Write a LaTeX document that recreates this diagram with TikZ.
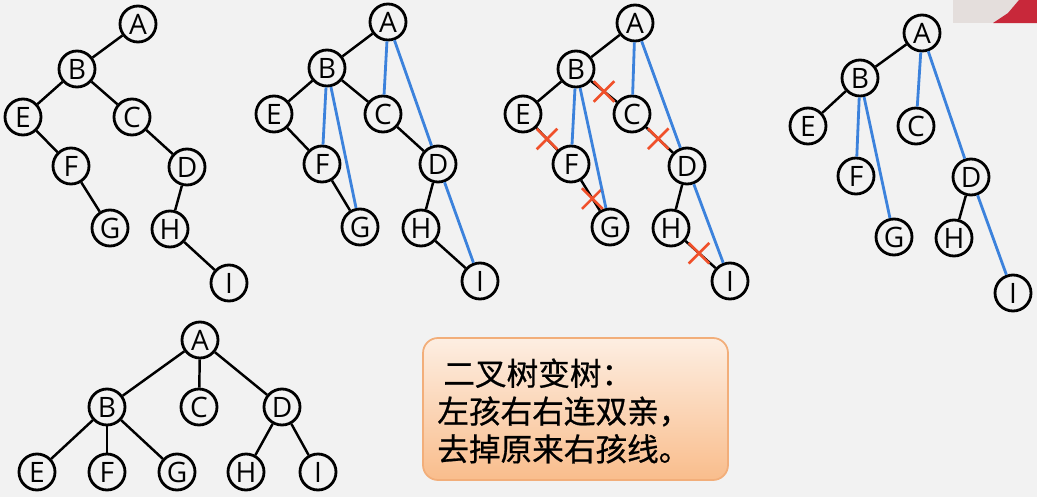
\documentclass[tikz,border=0pt]{standalone}
\usepackage{fontspec}
\setmainfont{Open Sans}
\newfontfamily\cjk[FakeBold=0.6]{Noto Sans CJK SC}
\usetikzlibrary{shapes.misc}
\definecolor{bgcol}{HTML}{F2F2F2}
\definecolor{linkblue}{HTML}{3C82DC}
\definecolor{cutred}{HTML}{F0502A}
\definecolor{boxtop}{HTML}{FDEEE2}
\definecolor{boxbot}{HTML}{F9BD8C}
\definecolor{boxline}{HTML}{F2AE7A}
\definecolor{camgray}{HTML}{E4DEDC}
\definecolor{camred}{HTML}{C8283A}
\begin{document}
\begin{tikzpicture}[x=0.02cm,y=-0.02cm,
  vtx/.style={circle,draw,line width=1.6pt,minimum size=0.72cm,inner sep=0pt,
    font=\fontsize{16}{17}\selectfont},
  blk/.style={line width=1.4pt},
  blu/.style={linkblue,line width=1.6pt},
  xmark/.style={cross out,draw=cutred,line width=1.5pt,minimum size=0.36cm,inner sep=0pt}]
  \fill[bgcol] (0,0) rectangle (1037,497);
  \fill[camgray] (953,0) rectangle (1037,23);
  \fill[camred] (993,23) -- (1008,13) -- (1019,0) -- (1037,0) -- (1037,23) -- cycle;
  % binary tree
  \node[vtx] (A1) at (138,24) {A};
  \node[vtx] (B1) at (77,69) {B};
  \node[vtx] (E1) at (23,117) {E};
  \node[vtx] (C1) at (132,117) {C};
  \node[vtx] (F1) at (71,166) {F};
  \node[vtx] (D1) at (187,167) {D};
  \node[vtx] (G1) at (110,228) {G};
  \node[vtx] (H1) at (170,229) {H};
  \node[vtx] (I1) at (229,283) {I};
  \draw[blk] (A1) -- (B1);
  \draw[blk] (B1) -- (E1);
  \draw[blk] (B1) -- (C1);
  \draw[blk] (E1) -- (F1);
  \draw[blk] (F1) -- (G1);
  \draw[blk] (C1) -- (D1);
  \draw[blk] (D1) -- (H1);
  \draw[blk] (H1) -- (I1);
  % parents linked to right children
  \node[vtx] (A2) at (388,22) {A};
  \node[vtx] (B2) at (327,68) {B};
  \node[vtx] (E2) at (274,114) {E};
  \node[vtx] (C2) at (383,114) {C};
  \node[vtx] (F2) at (322,164) {F};
  \node[vtx] (D2) at (438,164) {D};
  \node[vtx] (G2) at (360,227) {G};
  \node[vtx] (H2) at (421,228) {H};
  \node[vtx] (I2) at (480,281) {I};
  \draw[blk] (A2) -- (B2);
  \draw[blk] (B2) -- (E2);
  \draw[blk] (B2) -- (C2);
  \draw[blk] (E2) -- (F2);
  \draw[blk] (F2) -- (G2);
  \draw[blk] (C2) -- (D2);
  \draw[blk] (D2) -- (H2);
  \draw[blk] (H2) -- (I2);
  \draw[blu] (A2) -- (C2);
  \draw[blu] (A2) -- (D2);
  \draw[blu] (B2) -- (F2);
  \draw[blu] (B2) -- (G2);
  \draw[blu] (D2) -- (I2);
  % right-child lines crossed out
  \node[vtx] (A3) at (635,23) {A};
  \node[vtx] (B3) at (576,69) {B};
  \node[vtx] (E3) at (523,114) {E};
  \node[vtx] (C3) at (632,114) {C};
  \node[vtx] (F3) at (571,164) {F};
  \node[vtx] (D3) at (687,166) {D};
  \node[vtx] (G3) at (610,227) {G};
  \node[vtx] (H3) at (671,228) {H};
  \node[vtx] (I3) at (730,281) {I};
  \draw[blk] (A3) -- (B3);
  \draw[blk] (B3) -- (E3);
  \draw[blk] (B3) -- node[xmark] {} (C3);
  \draw[blk] (E3) -- node[xmark] {} (F3);
  \draw[blk] (F3) -- node[xmark,pos=0.6] {} (G3);
  \draw[blk] (C3) -- node[xmark,pos=0.45] {} (D3);
  \draw[blk] (D3) -- (H3);
  \draw[blk] (H3) -- node[xmark,pos=0.45] {} (I3);
  \draw[blu] (A3) -- (C3);
  \draw[blu] (A3) -- (D3);
  \draw[blu] (B3) -- (F3);
  \draw[blu] (B3) -- (G3);
  \draw[blu] (D3) -- (I3);
  % after removal
  \node[vtx] (A4) at (922,33) {A};
  \node[vtx] (B4) at (860,78) {B};
  \node[vtx] (E4) at (808,126) {E};
  \node[vtx] (C4) at (916,126) {C};
  \node[vtx] (F4) at (856,176) {F};
  \node[vtx] (D4) at (971,177) {D};
  \node[vtx] (G4) at (894,237) {G};
  \node[vtx] (H4) at (954,238) {H};
  \node[vtx] (I4) at (1013,293) {I};
  \draw[blk] (A4) -- (B4);
  \draw[blk] (B4) -- (E4);
  \draw[blk] (D4) -- (H4);
  \draw[blu] (A4) -- (C4);
  \draw[blu] (A4) -- (D4);
  \draw[blu] (B4) -- (F4);
  \draw[blu] (B4) -- (G4);
  \draw[blu] (D4) -- (I4);
  % resulting tree
  \node[vtx] (A5) at (200,340) {A};
  \node[vtx] (B5) at (107,407) {B};
  \node[vtx] (C5) at (199,407) {C};
  \node[vtx] (D5) at (282,407) {D};
  \node[vtx] (E5) at (37,472) {E};
  \node[vtx] (F5) at (107,472) {F};
  \node[vtx] (G5) at (177,472) {G};
  \node[vtx] (H5) at (246,472) {H};
  \node[vtx] (I5) at (318,472) {I};
  \draw[blk] (A5) -- (B5);
  \draw[blk] (A5) -- (C5);
  \draw[blk] (A5) -- (D5);
  \draw[blk] (B5) -- (E5);
  \draw[blk] (B5) -- (F5);
  \draw[blk] (B5) -- (G5);
  \draw[blk] (D5) -- (H5);
  \draw[blk] (D5) -- (I5);
  % rule box
  \draw[boxline,line width=1pt,rounded corners=0.3cm,top color=boxtop,bottom color=boxbot]
    (423,338) rectangle (728,480);
  \node[align=left,anchor=west,inner sep=0pt,font=\cjk\fontsize{18}{21.5}\selectfont] (rule)
    at (437,411) {\hspace{0.12cm}二叉树变树：\\左孩右右连双亲，\\去掉原来右孩线。};
\end{tikzpicture}
\end{document}
